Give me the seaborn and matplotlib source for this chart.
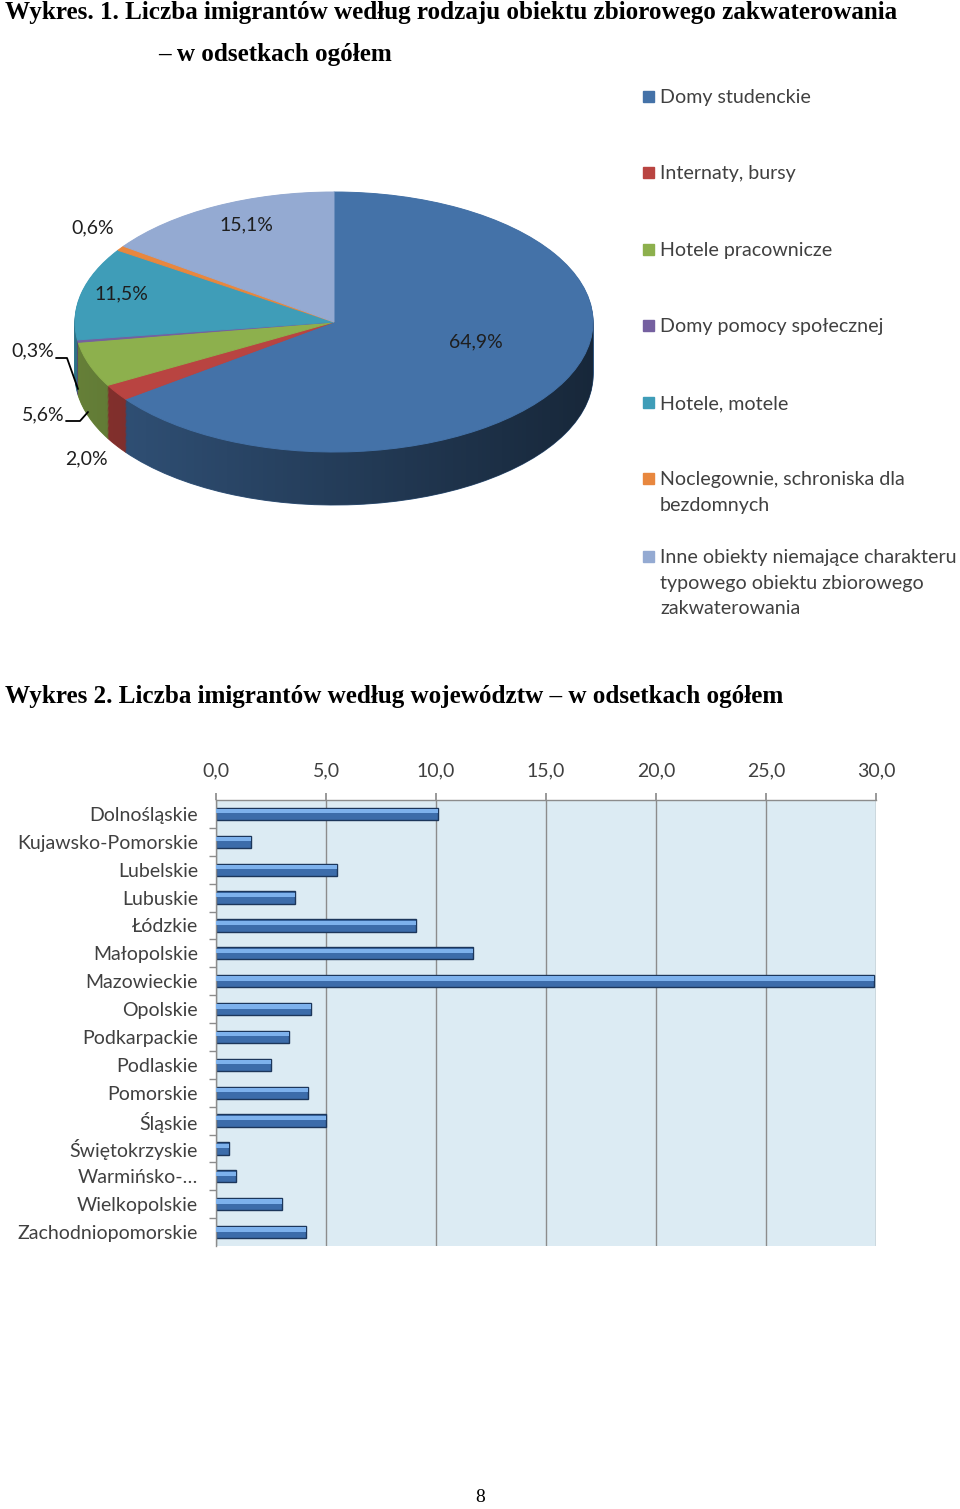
import numpy as np
import matplotlib.pyplot as plt
import matplotlib.colors as mcolors
from matplotlib.path import Path
from matplotlib.patches import PathPatch, Rectangle
import seaborn as sns

W, H = 960, 1509

# --- Wykres 1: rodzaj obiektu zbiorowego zakwaterowania (%)
accommodation = [
    'Domy studenckie',
    'Internaty, bursy',
    'Hotele pracownicze',
    'Domy pomocy społecznej',
    'Hotele, motele',
    'Noclegownie, schroniska dla\nbezdomnych',
    'Inne obiekty niemające charakteru\ntypowego obiektu zbiorowego\nzakwaterowania',
]
shares = [64.9, 2.0, 5.6, 0.3, 11.5, 0.6, 15.1]
pie_colors = ['#4472A8', '#B94441', '#8DB04D', '#7560A0', '#3F9DB8', '#E8873E', '#94AAD2']

# --- Wykres 2: województwa (%)
regions = ['Dolnośląskie', 'Kujawsko-Pomorskie', 'Lubelskie', 'Lubuskie', 'Łódzkie',
           'Małopolskie', 'Mazowieckie', 'Opolskie', 'Podkarpackie', 'Podlaskie',
           'Pomorskie', 'Śląskie', 'Świętokrzyskie', 'Warmińsko-…', 'Wielkopolskie',
           'Zachodniopomorskie']
region_share = [10.1, 1.6, 5.5, 3.6, 9.1, 11.7, 29.9, 4.3, 3.3, 2.5, 4.2, 5.0,
                0.6, 0.9, 3.0, 4.1]
x_ticks = [0, 5, 10, 15, 20, 25, 30]

TEXT = '#404040'
GRID = '#8C8C8C'


def darken(c, f):
    r, g, b = mcolors.to_rgb(c)
    return (r * f, g * f, b * f)


def fig_xy(x, y):
    return x / W, 1 - y / H


def seal(wedges):
    # paint the wedge outline in its own colour so no seams show
    for w in wedges:
        w.set_edgecolor(w.get_facecolor())
        w.set_linewidth(0.7)


sns.set_theme(style='white')
plt.rcParams['font.family'] = ['Lato', 'DejaVu Sans']

fig = plt.figure(figsize=(W / 100, H / 100), dpi=100)
fig.patch.set_facecolor('white')

# titles
serif = dict(family='Liberation Serif', weight='bold', color='black')
fig.text(*fig_xy(5, 13), 'Wykres. 1. Liczba imigrantów według rodzaju obiektu zbiorowego zakwaterowania',
         fontsize=18.1, va='center', ha='left', **serif)
fig.text(*fig_xy(158, 55), '– w odsetkach ogółem', fontsize=18.1, va='center', ha='left', **serif)
fig.text(*fig_xy(5, 697), 'Wykres 2. Liczba imigrantów według województw – w odsetkach ogółem',
         fontsize=18.1, va='center', ha='left', **serif)
fig.text(*fig_xy(480, 1497), '8', fontsize=14, va='center', ha='center',
         family='Liberation Serif', color='black')

# ---------------- 3D pie ----------------
CX, CY, RX, RY, DEPTH = 334, 322, 259, 130, 53
depth = DEPTH / RY


def to_data(x, y):
    return (x - CX) / RX, (CY - y) / RY


pax = fig.add_axes([34 / W, 1 - 550 / H, 600 / W, 400 / H])

side_colors = [darken(c, 0.76) for c in pie_colors]
n_layers = 45
for k in range(n_layers):
    off = -depth * (1 - k / n_layers)
    layer, _ = pax.pie(shares, colors=side_colors, startangle=90, counterclock=False,
                       center=(0, off), radius=1)
    seal(layer)

# horizontal shading on the side wall
t1 = np.linspace(0, np.pi, 200)
t2 = np.linspace(np.pi, 2 * np.pi, 200)
verts = np.r_[np.c_[np.cos(t1), np.sin(t1)], np.c_[np.cos(t2), np.sin(t2) - depth]]
verts = np.r_[verts, verts[:1]]
outline = PathPatch(Path(verts, closed=True), transform=pax.transData,
                    facecolor='none', edgecolor='none')
pax.add_patch(outline)
shade = np.zeros((1, 256, 4))
shade[..., 3] = 0.05 + 0.5 * np.linspace(0, 1, 256)
im = pax.imshow(shade, extent=(-1, 1, -1 - depth, 1), aspect='auto', zorder=2,
                interpolation='bilinear')
im.set_clip_path(outline)

wedges, _ = pax.pie(shares, colors=pie_colors, startangle=90, counterclock=False, radius=1)
seal(wedges)
for w in wedges:
    w.set_zorder(3)

pax.set_aspect('auto')
pax.set_xlim((34 - CX) / RX, (634 - CX) / RX)
pax.set_ylim((CY - 550) / RY, (CY - 150) / RY)
pax.axis('off')

label_px = [(476, 342), (86, 459), (43, 415), (33, 351), (121, 294), (93, 228), (246, 225)]
for v, (x, y) in zip(shares, label_px):
    pax.text(*to_data(x, y), f'{v:.1f}%'.replace('.', ','), ha='center', va='center',
             fontsize=14, color='#1E1E1E', zorder=5)

# leader lines for the small slices
for pts in ([(56, 358), (67, 358), (78, 389)], [(66, 421), (80, 421), (88, 412)]):
    xs, ys = zip(*[to_data(x, y) for x, y in pts])
    pax.plot(xs, ys, color='black', lw=1.3, zorder=5, clip_on=False)

# legend
legend_y = [97, 173, 250, 326, 403, 479, 557]
for lab, col, y in zip(accommodation, pie_colors, legend_y):
    fig.add_artist(Rectangle(fig_xy(643, y + 5), 11 / W, 11 / H,
                             transform=fig.transFigure, color=col))
    fig.text(*fig_xy(660, y - 8), lab, va='top', ha='left', fontsize=14.1,
             linespacing=1.62, color=TEXT)

# ---------------- bar chart ----------------
bax = fig.add_axes([216 / W, 1 - 1246 / H, 660 / W, 446 / H])
sns.barplot(x=region_share, y=regions, orient='h', color='#3C6CAA', saturation=1,
            width=0.44, edgecolor='#1C365A', linewidth=1, ax=bax, zorder=2)
pos = np.arange(len(regions))
bax.barh(pos - 0.17, region_share, height=0.15, align='edge', color='#7DB1EC',
         linewidth=0, zorder=3)

bax.set_facecolor('#DCEBF3')
bax.set_xlim(0, 30)
bax.set_ylim(len(regions) - 0.5, -0.5)
bax.set_xlabel('')
bax.set_ylabel('')
bax.xaxis.tick_top()
bax.set_xticks(x_ticks)
bax.set_xticklabels([f'{t:.1f}'.replace('.', ',') for t in x_ticks])
bax.xaxis.grid(True, color=GRID, lw=1)
bax.yaxis.grid(False)
bax.set_axisbelow(True)
for s in ['right', 'bottom']:
    bax.spines[s].set_visible(False)
for s in ['top', 'left']:
    bax.spines[s].set_color(GRID)
    bax.spines[s].set_linewidth(1)
bax.tick_params(axis='x', which='major', top=True, bottom=False, length=5, color=GRID,
                pad=10, labelsize=14, labelcolor=TEXT)
bax.set_yticks(pos[:-1] + 0.5, minor=True)
bax.tick_params(axis='y', which='major', length=0, pad=13, labelsize=14, labelcolor=TEXT)
for t in bax.get_yticklabels():
    t.set_va('center_baseline')
bax.tick_params(axis='y', which='minor', left=True, length=5, color=GRID)

fig.savefig('out.png', dpi=100, facecolor='white')
